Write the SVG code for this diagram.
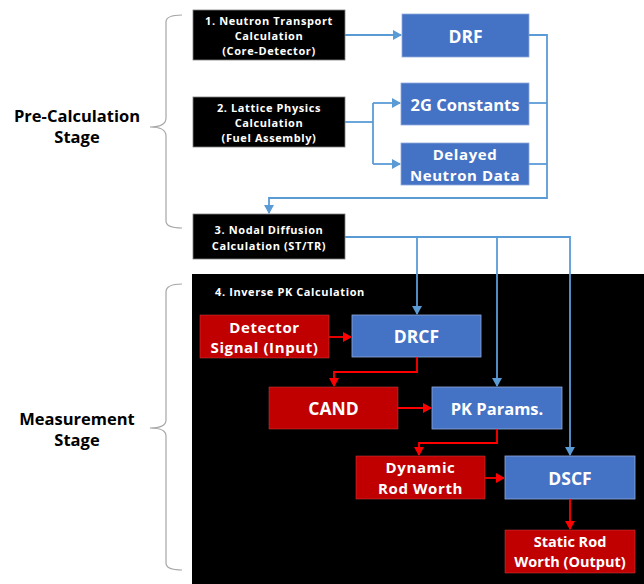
<svg xmlns="http://www.w3.org/2000/svg" width="644" height="584" viewBox="0 0 644 584">
<style>
text{font-family:"Open Sans","Noto Sans","DejaVu Sans",sans-serif;font-weight:bold;text-anchor:middle;dominant-baseline:central}
.blk{fill:#000;stroke:#7f7f7f;stroke-width:0.8}
.blu{fill:#4472C4;stroke:#8faadc;stroke-width:0.8}
.red{fill:#C00000;stroke:#d04040;stroke-width:0.5}
.w{fill:#fff}
.s12{font-size:11px;letter-spacing:0.6px}
.s15{font-size:16.5px}
.s2l{font-size:15px;letter-spacing:0.6px}
.s17{font-size:17.5px}
.s14{font-size:14.5px}
.st{font-size:16.5px;fill:#000}
.bl{fill:none;stroke:#5B9BD5;stroke-width:1.8}
.rl{fill:none;stroke:#FF0000;stroke-width:1.8}
.br{fill:none;stroke:#a6a6a6;stroke-width:1.2}
</style>
<defs>
<marker id="ab" markerWidth="10" markerHeight="10" refX="8" refY="5" orient="auto" markerUnits="userSpaceOnUse"><path d="M0,0 L9,5 L0,10 z" fill="#5B9BD5"/></marker>
<marker id="ar" markerWidth="10" markerHeight="10" refX="8" refY="5" orient="auto" markerUnits="userSpaceOnUse"><path d="M0,0 L9,5 L0,10 z" fill="#FF0000"/></marker>
</defs>
<rect width="644" height="584" fill="#fff"/>
<g id="stage-pre">
<path class="br" d="M182,15 Q166,15 166,22 L166,118 Q166,127 150,127 Q166,127 166,136 L166,221 Q166,228 182,228"/>
<text x="77" y="115" class="st">Pre-Calculation</text>
<text x="77" y="136" class="st">Stage</text>
</g>
<g id="stage-meas">
<path class="br" d="M182,284 Q166,284 166,292 L166,420 Q166,428 150,428 Q166,428 166,436 L166,563 Q166,570 182,570"/>
<text x="77" y="418" class="st">Measurement</text>
<text x="77" y="439" class="st">Stage</text>
</g>
<g id="panel4">
<rect x="192" y="274" width="452" height="310" fill="#000"/>
<text x="290" y="291" class="w s12">4. Inverse PK Calculation</text>
</g>
<g id="n1"><rect class="blk" x="193" y="10" width="152" height="50"/>
<text x="269" y="20" class="w s12">1. Neutron Transport</text><text x="269" y="35" class="w s12">Calculation</text><text x="269" y="50" class="w s12">(Core-Detector)</text></g>
<g id="n2"><rect class="blk" x="193" y="97" width="152" height="50"/>
<text x="269" y="107" class="w s12">2. Lattice Physics</text><text x="269" y="122" class="w s12">Calculation</text><text x="269" y="137" class="w s12">(Fuel Assembly)</text></g>
<g id="n3"><rect class="blk" x="193" y="214" width="152" height="45"/>
<text x="269" y="229" class="w s12">3. Nodal Diffusion</text><text x="269" y="245" class="w s12">Calculation (ST/TR)</text></g>
<g id="drf"><rect class="blu" x="402" y="14" width="127" height="43"/><text x="465.5" y="35.5" class="w s17">DRF</text></g>
<g id="g2"><rect class="blu" x="401" y="83" width="128" height="42"/><text x="465" y="104" class="w s15">2G Constants</text></g>
<g id="dnd"><rect class="blu" x="401" y="143" width="128" height="42"/><text x="465" y="154" class="w s2l">Delayed</text><text x="465" y="174.5" class="w s2l">Neutron Data</text></g>
<g id="det"><rect class="red" x="200" y="315" width="129" height="43"/><text x="264.5" y="326.5" class="w s2l">Detector</text><text x="264.5" y="347" class="w s2l">Signal (Input)</text></g>
<g id="drcf"><rect class="blu" x="352" y="315" width="129" height="42"/><text x="416.5" y="336" class="w s17">DRCF</text></g>
<g id="cand"><rect class="red" x="269" y="387" width="129" height="42"/><text x="333.5" y="408" class="w s17">CAND</text></g>
<g id="pk"><rect class="blu" x="432" y="387" width="130" height="42"/><text x="497" y="408" class="w s15">PK Params.</text></g>
<g id="dyn"><rect class="red" x="356" y="456" width="129" height="43"/><text x="420.5" y="467" class="w s2l">Dynamic</text><text x="420.5" y="487.5" class="w s2l">Rod Worth</text></g>
<g id="dscf"><rect class="blu" x="505" y="456" width="130" height="43"/><text x="570" y="477.5" class="w s17">DSCF</text></g>
<g id="srw"><rect class="red" x="505" y="530" width="130" height="43"/><text x="570" y="541" class="w s14">Static Rod</text><text x="570" y="561" class="w s14">Worth (Output)</text></g>
<g id="connectors">
<path class="bl" d="M345,35 L401,35" marker-end="url(#ab)"/>
<path class="bl" d="M345,122 L373,122"/>
<path class="bl" d="M373,103 L373,164"/>
<path class="bl" d="M373,103 L400,103" marker-end="url(#ab)"/>
<path class="bl" d="M373,164 L400,164" marker-end="url(#ab)"/>
<path class="bl" d="M529,35 L547,35 L547,198 L269,198 L269,213" marker-end="url(#ab)"/>
<path class="bl" d="M529,103 L547,103"/>
<path class="bl" d="M529,164 L547,164"/>
<path class="bl" d="M345,237 L570,237 L570,455" marker-end="url(#ab)"/>
<path class="bl" d="M417,237 L417,314" marker-end="url(#ab)"/>
<path class="bl" d="M497,237 L497,386" marker-end="url(#ab)"/>
<path class="rl" d="M329,337 L351,337" marker-end="url(#ar)"/>
<path class="rl" d="M417,357 L417,372 L334,372 L334,386" marker-end="url(#ar)"/>
<path class="rl" d="M398,408 L431,408" marker-end="url(#ar)"/>
<path class="rl" d="M497,429 L497,443 L419,443 L419,455" marker-end="url(#ar)"/>
<path class="rl" d="M485,478 L504,478" marker-end="url(#ar)"/>
<path class="rl" d="M570,499 L570,529" marker-end="url(#ar)"/>
</g>
</svg>
